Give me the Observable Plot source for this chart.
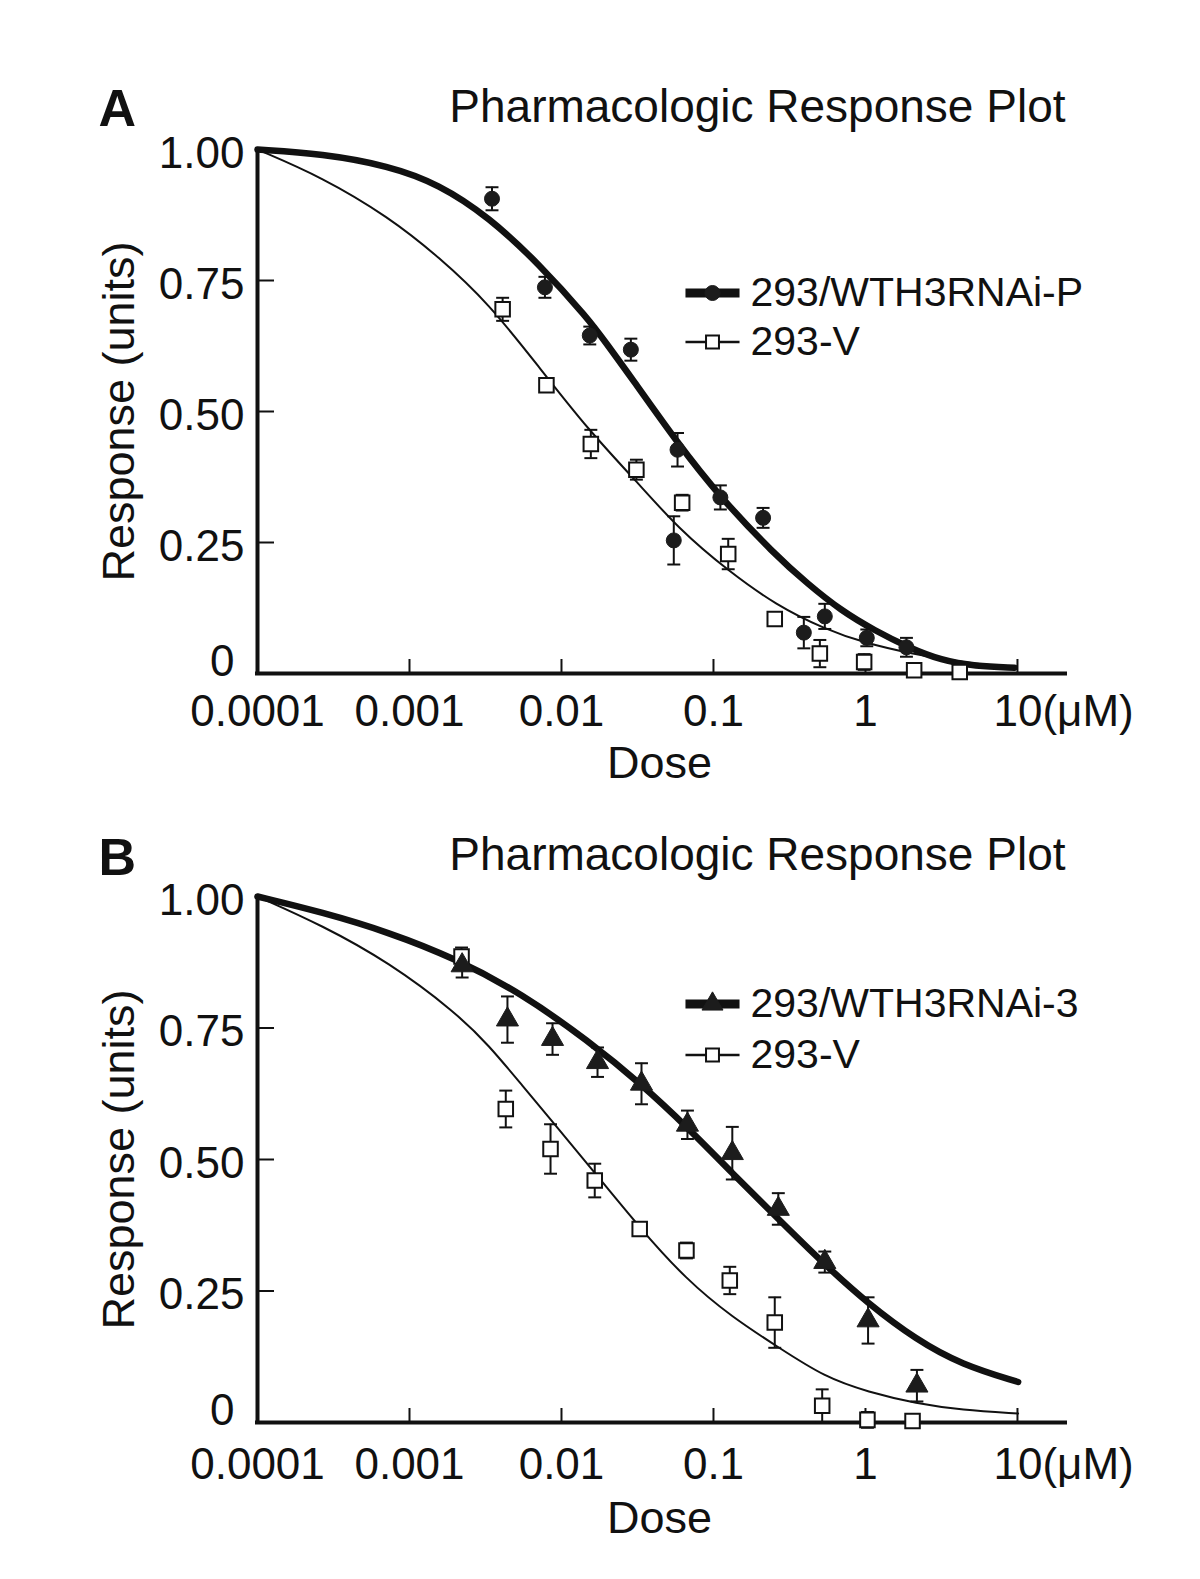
<!DOCTYPE html>
<html>
<head>
<meta charset="utf-8">
<script src="https://cdn.jsdelivr.net/npm/d3@7"></script>
<script src="https://cdn.jsdelivr.net/npm/@observablehq/plot@0.6"></script>
<style>
  html, body { margin: 0; padding: 0; background: #ffffff; }
  #wrap { position: relative; width: 1200px; height: 1579px; }
  .panel { position: absolute; left: 0; }
</style>
</head>
<body>
<div id="wrap">
  <div id="panelA" class="panel" style="top:0px"></div>
  <div id="panelB" class="panel" style="top:747px"></div>
</div>
<script>
// ---------- text / ticks ----------
const chartTitle = "Pharmacologic Response Plot";
const xLabel = "Dose";
const yLabel = "Response (units)";
const xTicks = [0.0001, 0.001, 0.01, 0.1, 1, 10];
const xTickLabels = ["0.0001", "0.001", "0.01", "0.1", "1", "10(μM)"];
const yTicks = [0, 0.25, 0.5, 0.75, 1];
const yTickLabels = ["0", "0.25", "0.50", "0.75", "1.00"];
const xDomain = [0.0001, 20.7];

// ---------- Panel A ----------
const seriesA = ["293/WTH3RNAi-P", "293-V"];
// 293/WTH3RNAi-P (filled circles)
const doseA_P = [0.00349, 0.00778, 0.01535, 0.0286, 0.058, 0.0548, 0.111, 0.212, 0.393, 0.540, 1.02, 1.86];
const respA_P = [0.906, 0.737, 0.645, 0.618, 0.427, 0.254, 0.336, 0.297, 0.078, 0.109, 0.068, 0.050];
const errA_P  = [0.022, 0.020, 0.017, 0.021, 0.032, 0.046, 0.023, 0.019, 0.030, 0.024, 0.016, 0.018];
// 293-V (open squares)
const doseA_V = [0.0041, 0.00796, 0.0156, 0.0311, 0.0622, 0.125, 0.253, 0.501, 0.98, 2.09, 4.17];
const respA_V = [0.695, 0.550, 0.438, 0.389, 0.326, 0.228, 0.104, 0.038, 0.022, 0.006, 0.003];
const errA_V  = [0.022, 0.012, 0.027, 0.019, 0.015, 0.029, 0.012, 0.026, 0.015, 0.012, 0.010];
// fitted curves
const fitDoseA_P = [0.0001, 0.000267, 0.000731, 0.00156, 0.00333, 0.0071, 0.0151, 0.0195, 0.0286, 0.0579, 0.111, 0.251, 0.417, 0.692, 1.15, 1.91, 3.16, 5.25, 9.55];
const fitRespA_P = [1.000, 0.992, 0.969, 0.934, 0.871, 0.782, 0.676, 0.632, 0.566, 0.440, 0.336, 0.228, 0.171, 0.120, 0.082, 0.050, 0.025, 0.014, 0.011];
const fitDoseA_V = [0.0001, 0.000267, 0.000731, 0.00156, 0.00333, 0.0071, 0.0151, 0.0311, 0.0589, 0.126, 0.257, 0.537, 1.0, 2.0, 4.07, 9.5];
const fitRespA_V = [1.000, 0.947, 0.871, 0.795, 0.706, 0.585, 0.464, 0.367, 0.276, 0.195, 0.131, 0.085, 0.058, 0.038, 0.022, 0.011];

// ---------- Panel B ----------
const seriesB = ["293/WTH3RNAi-3", "293-V"];
// 293/WTH3RNAi-3 (filled triangles)
const doseB_3 = [0.00222, 0.00441, 0.00873, 0.01726, 0.0336, 0.0674, 0.133, 0.267, 0.540, 1.04, 2.18];
const respB_3 = [0.869, 0.766, 0.729, 0.685, 0.644, 0.566, 0.512, 0.406, 0.305, 0.194, 0.070];
const errB_3  = [0.023, 0.044, 0.030, 0.028, 0.039, 0.027, 0.050, 0.030, 0.020, 0.044, 0.030];
// 293-V (open squares)
const doseB_V = [0.0022, 0.0043, 0.00847, 0.01655, 0.0327, 0.0664, 0.128, 0.253, 0.519, 1.03, 2.04];
const respB_V = [0.886, 0.596, 0.520, 0.460, 0.368, 0.327, 0.270, 0.190, 0.032, 0.005, 0.003];
const errB_V  = [0.017, 0.035, 0.047, 0.032, 0.012, 0.015, 0.026, 0.048, 0.031, 0.015, 0.012];
const fitDoseB_3 = [0.0001, 0.000267, 0.000731, 0.00201, 0.00551, 0.0151, 0.0336, 0.0675, 0.133, 0.267, 0.540, 1.04, 2.17, 4.29, 10.1];
const fitRespB_3 = [1.000, 0.970, 0.932, 0.882, 0.815, 0.725, 0.643, 0.561, 0.474, 0.387, 0.300, 0.226, 0.157, 0.110, 0.077];
const fitDoseB_V = [0.0001, 0.000267, 0.000731, 0.00201, 0.00333, 0.00551, 0.00914, 0.0151, 0.0327, 0.066, 0.133, 0.267, 0.540, 1.04, 2.17, 4.29, 10.1];
const fitRespB_V = [1.000, 0.945, 0.875, 0.780, 0.717, 0.641, 0.565, 0.489, 0.370, 0.272, 0.200, 0.143, 0.086, 0.058, 0.036, 0.024, 0.017];

// ---------- drawing ----------
const FONT = '"Liberation Sans", Arial, Helvetica, sans-serif';
const ink = "#111111";
const markFill = "#1c1c1c";
// horizontal bar symbol (error-bar caps and legend swatch lines)
const hbar = { draw(ctx, size) { const w = Math.sqrt(size) / 2; ctx.moveTo(-w, 0); ctx.lineTo(w, 0); } };

const rows = (dose, resp, err) => dose.map((d, i) => ({dose: d, resp: resp[i], err: err ? err[i] : 0}));

function errorBars(data) {
  return [
    Plot.ruleX(data, {x: "dose", y1: d => d.resp - d.err, y2: d => d.resp + d.err, stroke: ink, strokeWidth: 2}),
    Plot.dot(data, {x: "dose", y: d => d.resp + d.err, symbol: hbar, r: 7.3, stroke: ink, strokeWidth: 2, fill: "none"}),
    Plot.dot(data, {x: "dose", y: d => d.resp - d.err, symbol: hbar, r: 7.3, stroke: ink, strokeWidth: 2, fill: "none"})
  ];
}

function panel(cfg) {
  const treated = rows(cfg.tDose, cfg.tResp, cfg.tErr);
  const vector = rows(cfg.vDose, cfg.vResp, cfg.vErr);
  const fitT = rows(cfg.ftDose, cfg.ftResp);
  const fitV = rows(cfg.fvDose, cfg.fvResp);
  const frameBottom = cfg.frameBottom;
  const treatedMarker = cfg.symbol === "triangle"
    ? {symbol: "triangle", r: 8.2, fill: markFill, stroke: markFill, strokeWidth: 1}
    : {symbol: "circle", r: 7.5, fill: markFill, stroke: markFill, strokeWidth: 1};
  const legendTreated = cfg.symbol === "triangle"
    ? {symbol: "triangle", r: 7.8, fill: markFill, stroke: markFill, strokeWidth: 1}
    : {symbol: "circle", r: 7.5, fill: markFill, stroke: markFill, strokeWidth: 1};
  const yFmt = d => yTickLabels[yTicks.indexOf(d)];
  const xFmt = d => xTickLabels[xTicks.indexOf(d)];
  return Plot.plot({
    width: 1200,
    height: cfg.height,
    marginTop: 149,
    marginLeft: 257,
    marginRight: 135,
    marginBottom: cfg.height - frameBottom,
    x: {type: "log", domain: xDomain},
    y: {domain: [yTicks[0], yTicks[yTicks.length - 1]]},
    style: {fontFamily: FONT, fontSize: "44px", color: ink, background: "transparent", overflow: "visible"},
    marks: [
      // axis lines
      Plot.ruleY([yTicks[0]], {stroke: ink, strokeWidth: 4, strokeLinecap: "square"}),
      Plot.ruleX([xTicks[0]], {stroke: ink, strokeWidth: 4, strokeLinecap: "square"}),
      // inward ticks
      Plot.axisX(xTicks.slice(1), {tickSize: -14, strokeWidth: 2, fill: "none", label: null}),
      Plot.axisY(yTicks.slice(1, 4), {tickSize: -17, strokeWidth: 2, fill: "none", label: null}),
      // tick labels
      Plot.axisX(xTicks.slice(0, 5), {tickSize: 0, tickPadding: cfg.xPad, tickFormat: xFmt, fontSize: 44, label: null}),
      Plot.axisX(xTicks.slice(5), {tickSize: 0, tickPadding: cfg.xPad, tickFormat: xFmt, textAnchor: "start", dx: -24, fontSize: 44, label: null}),
      Plot.axisY(yTicks.slice(1), {tickSize: 0, tickPadding: 13, tickFormat: yFmt, dy: 4, fontSize: 44, label: null}),
      Plot.axisY(yTicks.slice(0, 1), {tickSize: 0, tickPadding: 23, tickFormat: yFmt, dy: -12, fontSize: 44, label: null}),
      // axis titles
      Plot.text([yLabel], {frameAnchor: "left", text: d => d, rotate: -90, textAnchor: "middle", lineAnchor: "middle", dx: -138, fontSize: 45}),
      Plot.text([xLabel], {frameAnchor: "bottom", text: d => d, textAnchor: "middle", lineAnchor: "middle", dx: -2, dy: cfg.doseDy, fontSize: 45}),
      // title and panel letter
      Plot.text([chartTitle], {frameAnchor: "top-right", text: d => d, textAnchor: "end", lineAnchor: "middle", dy: cfg.titleDy, fontSize: 46}),
      Plot.text([cfg.letter], {frameAnchor: "top-left", text: d => d, textAnchor: "start", lineAnchor: "middle", dx: -159, dy: cfg.letterDy, fontSize: 52, fontWeight: "bold"}),
      // fitted curves
      Plot.line(fitV, {x: "dose", y: "resp", curve: "basis", stroke: ink, strokeWidth: 2}),
      Plot.line(fitT, {x: "dose", y: "resp", curve: "basis", stroke: ink, strokeWidth: 6.5, strokeLinecap: "round"}),
      // error bars
      ...errorBars(vector),
      ...errorBars(treated),
      // markers
      Plot.dot(vector, {x: "dose", y: "resp", symbol: "square", r: 8.2, fill: "white", stroke: ink, strokeWidth: 2}),
      Plot.dot(treated, {x: "dose", y: "resp", ...treatedMarker}),
      // legend
      Plot.dot([cfg.series[0]], {frameAnchor: "top-right", dx: -353, dy: cfg.leg1, symbol: hbar, r: 30.5, stroke: ink, strokeWidth: 9, fill: "none"}),
      Plot.dot([cfg.series[0]], {frameAnchor: "top-right", dx: -353, dy: cfg.leg1, ...legendTreated}),
      Plot.text([cfg.series[0]], {frameAnchor: "top-right", dx: -315, dy: cfg.leg1, text: d => d, textAnchor: "start", lineAnchor: "middle", fontSize: 41}),
      Plot.dot([cfg.series[1]], {frameAnchor: "top-right", dx: -353, dy: cfg.leg2, symbol: hbar, r: 30.5, stroke: ink, strokeWidth: 2.5, fill: "none"}),
      Plot.dot([cfg.series[1]], {frameAnchor: "top-right", dx: -353, dy: cfg.leg2, symbol: "square", r: 7.3, fill: "white", stroke: ink, strokeWidth: 2}),
      Plot.text([cfg.series[1]], {frameAnchor: "top-right", dx: -315, dy: cfg.leg2, text: d => d, textAnchor: "start", lineAnchor: "middle", fontSize: 41})
    ]
  });
}

document.getElementById("panelA").append(panel({
  letter: "A", series: seriesA, symbol: "circle",
  tDose: doseA_P, tResp: respA_P, tErr: errA_P,
  vDose: doseA_V, vResp: respA_V, vErr: errA_V,
  ftDose: fitDoseA_P, ftResp: fitRespA_P, fvDose: fitDoseA_V, fvResp: fitRespA_V,
  height: 800, frameBottom: 673, xPad: 21.6, doseDy: 90.2, titleDy: -42.5, letterDy: -39.8,
  leg1: 143.5, leg2: 192.5
}));

document.getElementById("panelB").append(panel({
  letter: "B", series: seriesB, symbol: "triangle",
  tDose: doseB_3, tResp: respB_3, tErr: errB_3,
  vDose: doseB_V, vResp: respB_V, vErr: errB_V,
  ftDose: fitDoseB_3, ftResp: fitRespB_3, fvDose: fitDoseB_V, fvResp: fitRespB_V,
  height: 832, frameBottom: 675, xPad: 25.7, doseDy: 96.2, titleDy: -41.5, letterDy: -37.8,
  leg1: 107.5, leg2: 158.5
}));
</script>
</body>
</html>
